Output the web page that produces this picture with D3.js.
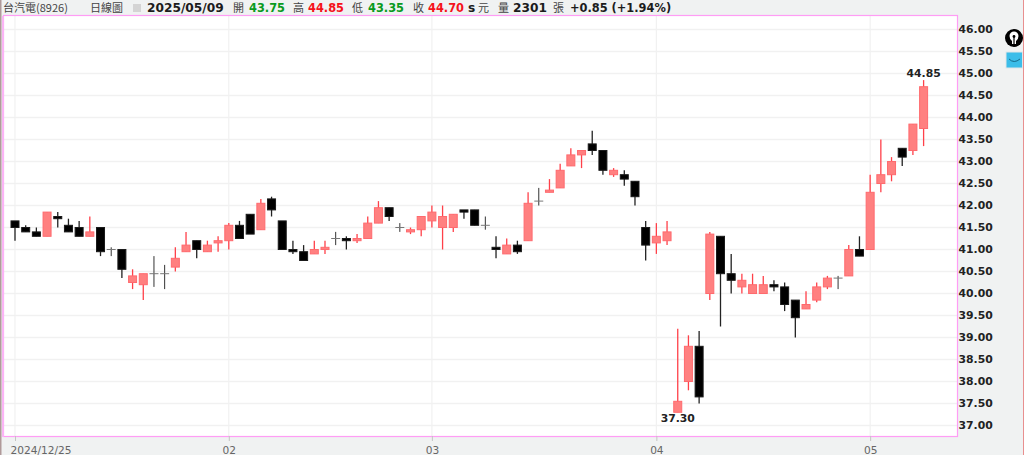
<!DOCTYPE html>
<html><head><meta charset="utf-8">
<script src="https://cdn.jsdelivr.net/npm/d3@7"></script>
<style>
html,body{margin:0;padding:0;background:#f0f2f2;overflow:hidden}
svg{display:block}
</style></head><body><svg id="c" width="1024" height="455"></svg>
<script>
const opens=[41.65,41.5,41.4,41.3,41.75,41.55,41.5,41.3,41.5,41.0,41.0,40.25,40.2,40.45,40.45,40.6,40.95,41.2,40.95,41.15,41.2,41.55,41.8,41.45,42.15,41.65,41.0,40.95,40.9,41.0,41.25,41.25,41.2,41.25,41.6,41.95,41.5,41.4,41.45,41.65,41.5,41.5,41.9,41.9,41.55,41.05,40.9,41.1,41.2,42.1,42.3,42.4,42.9,43.15,43.4,43.25,42.7,42.7,42.55,41.5,41.15,41.2,37.3,38.0,38.8,40.0,41.3,40.45,40.15,40.0,40.0,40.2,40.15,39.85,39.65,39.85,40.15,40.35,40.4,41.0,41.0,42.5,42.7,43.3,43.25,43.75];
const highs=[41.65,41.55,41.5,41.85,41.85,41.7,41.65,41.75,41.5,41.05,41.0,40.55,40.45,40.85,40.65,41.05,41.4,41.2,41.2,41.3,41.6,41.65,41.8,42.15,42.2,41.65,41.2,41.1,41.2,41.2,41.4,41.3,41.35,41.75,42.1,41.95,41.6,41.5,41.75,42.0,42.0,41.8,41.9,41.9,41.75,41.3,41.25,41.2,42.3,42.4,42.6,42.95,43.3,43.25,43.7,43.25,42.85,42.8,42.55,41.65,41.6,41.65,39.2,39.05,39.15,41.4,41.3,40.9,40.45,40.45,40.4,40.3,40.25,39.85,40.05,40.25,40.4,40.4,41.1,41.3,42.7,43.5,43.1,43.3,43.85,44.85];
const lows=[41.2,41.4,41.3,41.3,41.5,41.4,41.3,41.3,40.85,40.85,40.35,40.1,39.85,40.15,40.1,40.5,40.95,40.8,40.95,40.95,41.0,41.25,41.35,41.45,41.75,41.0,40.9,40.75,40.9,40.9,41.1,41.0,41.15,41.25,41.6,41.65,41.4,41.35,41.3,41.5,41.0,41.4,41.7,41.55,41.45,40.8,40.9,40.9,41.2,42.0,42.3,42.4,42.9,42.85,43.15,42.7,42.65,42.45,42.0,40.75,40.9,41.1,37.3,37.8,37.5,39.85,39.25,40.0,40.0,40.0,40.0,40.05,39.6,39.0,39.65,39.8,40.1,40.1,40.4,40.85,41.0,42.3,42.55,42.9,43.15,43.35];
const closes=[41.5,41.4,41.3,41.85,41.7,41.4,41.3,41.4,40.95,41.0,40.55,40.4,40.45,40.45,40.45,40.8,41.1,41.0,41.1,41.2,41.55,41.25,41.35,42.05,41.9,41.0,40.95,40.75,41.0,41.05,41.25,41.2,41.25,41.6,41.95,41.75,41.5,41.45,41.75,41.85,41.75,41.8,41.85,41.55,41.55,41.0,41.1,40.95,42.05,42.1,42.35,42.8,43.15,43.25,43.25,42.8,42.8,42.6,42.2,41.1,41.3,41.4,37.55,38.8,37.65,41.35,40.45,40.3,40.3,40.2,40.2,40.15,39.75,39.45,39.75,40.15,40.35,40.35,41.0,40.85,42.3,42.7,43.0,43.1,43.85,44.7];
const yTicks=d3.range(37,46.01,0.5);
const xTickIdx=[0,20,39,60,80];
const xTickLabels=["2024/12/25","02","03","04","05"];
const annotations=[{i:62,v:37.30,pos:"below"},{i:85,v:44.85,pos:"above"}];
const header=[
 {x:3,t:"台汽電(8926)",k:"cjk"},{x:90,t:"日線圖",k:"cjk"},
 {x:147,t:"2025/05/09",k:"b"},
 {x:233,t:"開",k:"cjk"},{x:249,t:"43.75",k:"g"},
 {x:293,t:"高",k:"cjk"},{x:308,t:"44.85",k:"r"},
 {x:352,t:"低",k:"cjk"},{x:368,t:"43.35",k:"g"},
 {x:413,t:"收",k:"cjk"},{x:428,t:"44.70",k:"r"},
 {x:468,t:"s",k:"b"},{x:478,t:"元",k:"cjk"},
 {x:498,t:"量",k:"cjk"},{x:513,t:"2301",k:"b"},{x:553,t:"張",k:"cjk"},
 {x:570,t:"+0.85 (+1.94%)",k:"t"}
];
const svg=d3.select("#c");
const L=4,R=957,T=16,B=436;
const x=d3.scaleLinear().domain([0,85]).range([15,923.6]);
const y=d3.scaleLinear().domain([37,46]).range([425.5,29.5]);
const RED="#ff4049",FILL="#ff8080";

svg.append("rect").attr("x",0).attr("y",0).attr("width",1.5).attr("height",455).attr("fill","#b09a9a");
svg.append("rect").attr("x",1023).attr("y",0).attr("width",1).attr("height",455).attr("fill","#e88f8f");
svg.append("rect").attr("x",L).attr("y",T).attr("width",R-L).attr("height",B-T).attr("fill","#fff");

const g=svg.append("g");
g.selectAll("line.h").data(yTicks).join("line").attr("class","h")
 .attr("x1",L).attr("x2",R).attr("y1",d=>y(d)).attr("y2",d=>y(d)).attr("stroke","#f1f1f1").attr("stroke-width",1.4);
g.selectAll("line.v").data(xTickIdx).join("line").attr("class","v")
 .attr("x1",d=>x(d)).attr("x2",d=>x(d)).attr("y1",T).attr("y2",B).attr("stroke","#f1f1f1").attr("stroke-width",1.2);

svg.append("rect").attr("x",L-.5).attr("y",T-.5).attr("width",R-L+1).attr("height",B-T+1)
 .attr("fill","none").attr("stroke","#ff9df5").attr("stroke-width",1.2);
svg.append("rect").attr("x",2).attr("y",T).attr("width",2).attr("height",B-T+1).attr("fill","#fbb4f6");

const yAxis=d3.axisRight(y).tickValues(yTicks).tickSize(0).tickPadding(0).tickFormat(d3.format(".2f"));
const ya=svg.append("g").attr("transform",`translate(${R+1.5},0)`).call(yAxis);
ya.select(".domain").remove();
ya.selectAll("text").attr("font-family","'DejaVu Sans'").attr("font-weight","bold").attr("font-size",10.8).attr("fill","#222");

const xAxis=d3.axisBottom(x).tickValues(xTickIdx).tickSize(5).tickPadding(5).tickFormat((d,i)=>xTickLabels[i]);
const xa=svg.append("g").attr("transform",`translate(0,${B})`).call(xAxis);
xa.select(".domain").remove();
xa.selectAll("line").attr("stroke","#c4c4c4");
xa.selectAll("text").attr("font-family","'DejaVu Sans'").attr("font-size",10.6).attr("fill","#666");
xa.selectAll("text").filter((d,i)=>i===0).attr("text-anchor","start").attr("x",-5);

const candles=opens.map((o,i)=>({i,o,h:highs[i],l:lows[i],c:closes[i]}));
const isUp=d=>d.c>d.o;
const cg=svg.append("g");
cg.selectAll("line.w").data(candles).join("line").attr("class","w")
 .attr("x1",d=>x(d.i)).attr("x2",d=>x(d.i)).attr("y1",d=>y(d.h)).attr("y2",d=>y(d.l))
 .attr("stroke",d=>isUp(d)?RED:(d.o===d.c?"#333":"#222")).attr("stroke-width",d=>d.o===d.c?1:1.3);
cg.selectAll("rect.b").data(candles.filter(d=>d.o!==d.c)).join("rect").attr("class","b")
 .attr("x",d=>x(d.i)-4).attr("width",8)
 .attr("y",d=>y(Math.max(d.o,d.c))).attr("height",d=>Math.abs(y(d.o)-y(d.c)))
 .attr("fill",d=>isUp(d)?FILL:"#000").attr("stroke",d=>isUp(d)?"#ff6a6e":"#1a1a1a").attr("stroke-width",1);
cg.selectAll("line.d").data(candles.filter(d=>d.o===d.c)).join("line").attr("class","d")
 .attr("x1",d=>x(d.i)-4.5).attr("x2",d=>x(d.i)+4.5).attr("y1",d=>y(d.o)).attr("y2",d=>y(d.o))
 .attr("stroke","#777").attr("stroke-width",1);

svg.selectAll("text.a").data(annotations).join("text").attr("class","a")
 .attr("x",d=>x(d.i)).attr("y",d=>d.pos==="below"?y(d.v)+10:y(d.v)-3)
 .attr("text-anchor","middle").attr("font-family","'DejaVu Sans'").attr("font-weight","bold").attr("font-size",10.8).attr("fill","#222")
 .text(d=>d.v.toFixed(2));

const col={g:"#0a9a1e",r:"#f5131b",b:"#1c1c1c",t:"#1c1c1c",cjk:"#444"};
const size={g:11.4,r:11.4,b:12.2,t:11.4,cjk:11};
svg.selectAll("text.hd").data(header).join("text").attr("class","hd")
 .attr("x",d=>d.x).attr("y",12)
 .attr("font-family",d=>d.k==="cjk"?"'Noto Sans CJK TC'":"'DejaVu Sans'")
 .attr("font-weight",d=>d.k==="cjk"?400:700)
 .attr("font-size",d=>size[d.k])
 .attr("fill",d=>col[d.k]).text(d=>d.t);
svg.append("rect").attr("x",133).attr("y",4).attr("width",8).attr("height",8).attr("fill","#d4d4d4");

// icons
const ic=svg.append("g");
ic.append("circle").attr("cx",1014).attr("cy",38).attr("r",9).attr("fill","#000");
ic.append("path").attr("d","M1009.5 36 A4.5 4.5 0 0 1 1018.5 36 Q1018.5 39 1016 41 L1016 44 L1012 44 L1012 41 Q1009.5 39 1009.5 36Z").attr("fill","#fff");
ic.append("circle").attr("cx",1014).attr("cy",36.5).attr("r",1.4).attr("fill","#000");
ic.append("rect").attr("x",1013.4).attr("y",37).attr("width",1.2).attr("height",7).attr("fill","#000");
ic.append("rect").attr("x",1006).attr("y",52).attr("width",16.5).attr("height",16).attr("fill","#3bbde9").attr("stroke","#dfe5e8");
ic.append("path").attr("d","M1009 59 Q1014 64 1020 59").attr("fill","none").attr("stroke","#166a8a").attr("stroke-width",1);
</script></body></html>
